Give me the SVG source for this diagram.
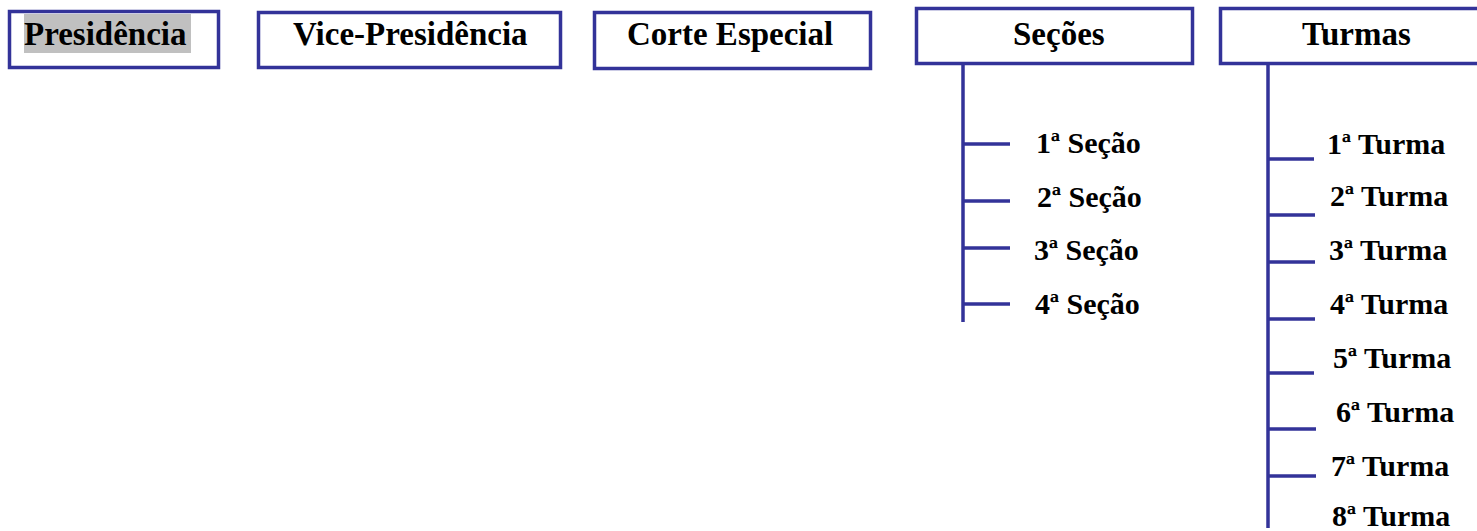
<svg xmlns="http://www.w3.org/2000/svg" width="1477" height="531" viewBox="0 0 1477 531">
<style>
.box{fill:#fff;stroke:#333399;stroke-width:3.5}
.ln{stroke:#333399;stroke-width:3.5;fill:none}
.h{font-family:"Liberation Serif","Times New Roman",serif;font-weight:bold;font-size:33px;fill:#000}
.t{font-family:"Liberation Serif","Times New Roman",serif;font-weight:bold;font-size:30px;fill:#000}
</style>
<rect width="1477" height="531" fill="#fff"/>
<g id="connectors">
<path class="ln" d="M963,64V322M963,144H1010M963,201H1010M963,248H1010M963,304H1010"/>
<path class="ln" d="M1268,64V528M1268,159H1314M1268,215H1315M1268,262H1315M1268,319H1315M1268,373H1314M1268,429H1316M1268,476H1316"/>
</g>
<g id="presidencia">
<rect class="box" x="9.5" y="11.5" width="209" height="56"/>
<rect x="24" y="14" width="167" height="39" fill="#c0c0c0"/>
<text class="h" x="24" y="45">Presidência</text>
</g>
<g id="vice-presidencia">
<rect class="box" x="258.5" y="12.5" width="302" height="55"/>
<text class="h" x="293" y="45">Vice-Presidência</text>
</g>
<g id="corte-especial">
<rect class="box" x="594.5" y="12.5" width="276" height="56"/>
<text class="h" x="627" y="45">Corte Especial</text>
</g>
<g id="secoes">
<rect class="box" x="916.5" y="8.5" width="276" height="55"/>
<text class="h" x="1013" y="45">Seções</text>
</g>
<g id="turmas">
<rect class="box" x="1220.5" y="8.5" width="270" height="55"/>
<text class="h" x="1302" y="45">Turmas</text>
</g>
<g id="secao-1"><text class="t" x="1036" y="153">1ª Seção</text></g>
<g id="secao-2"><text class="t" x="1037" y="207">2ª Seção</text></g>
<g id="secao-3"><text class="t" x="1034" y="260">3ª Seção</text></g>
<g id="secao-4"><text class="t" x="1035" y="314">4ª Seção</text></g>
<g id="turma-1"><text class="t" x="1327" y="154">1ª Turma</text></g>
<g id="turma-2"><text class="t" x="1330" y="206">2ª Turma</text></g>
<g id="turma-3"><text class="t" x="1329" y="260">3ª Turma</text></g>
<g id="turma-4"><text class="t" x="1330" y="314">4ª Turma</text></g>
<g id="turma-5"><text class="t" x="1333" y="368">5ª Turma</text></g>
<g id="turma-6"><text class="t" x="1336" y="422">6ª Turma</text></g>
<g id="turma-7"><text class="t" x="1331" y="476">7ª Turma</text></g>
<g id="turma-8"><text class="t" x="1332" y="526">8ª Turma</text></g>
</svg>
